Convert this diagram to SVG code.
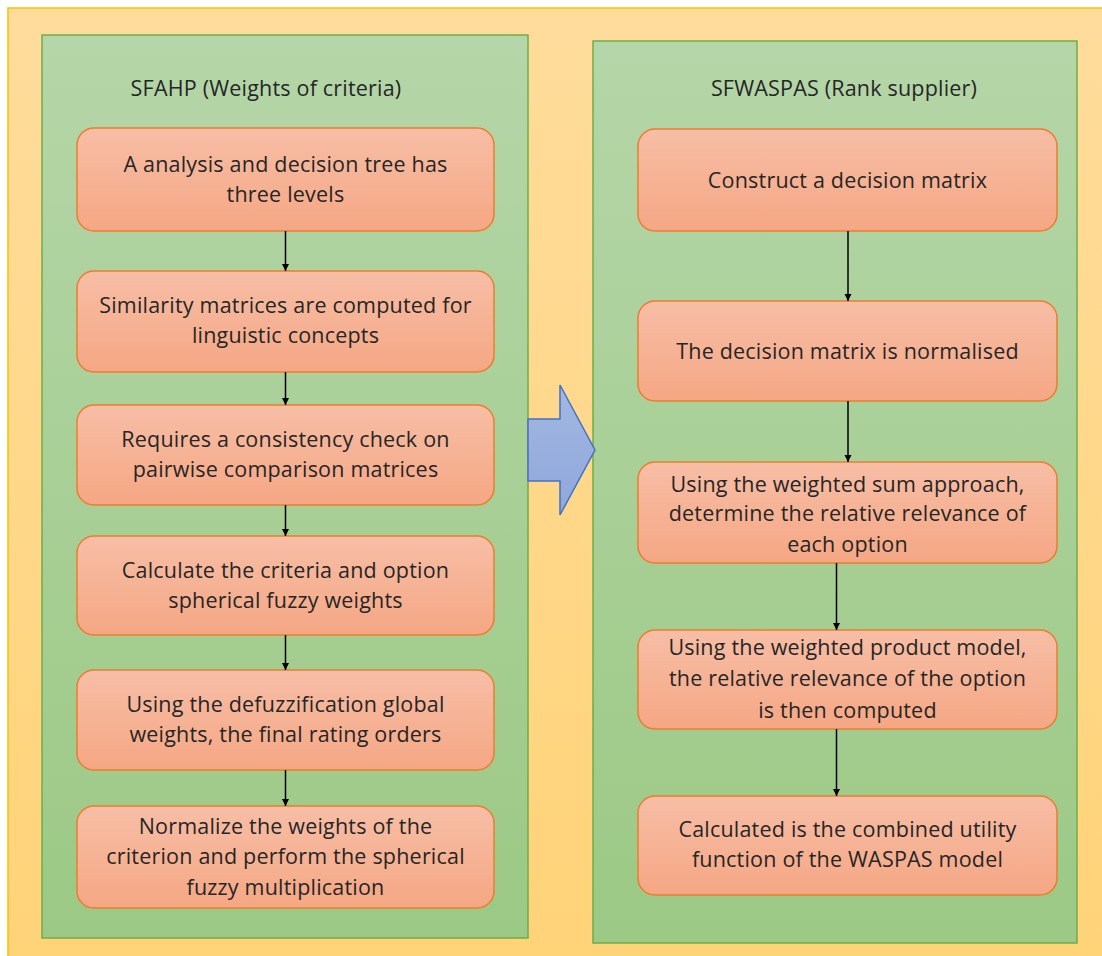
<svg xmlns="http://www.w3.org/2000/svg" width="1102" height="956" viewBox="0 0 1102 956">
<defs>
<linearGradient id="gy" x1="0" y1="0" x2="0" y2="1"><stop offset="0" stop-color="#FFDC9C"/><stop offset="1" stop-color="#FFD378"/></linearGradient>
<linearGradient id="gg" x1="0" y1="0" x2="0" y2="1"><stop offset="0" stop-color="#B5D6A8"/><stop offset="1" stop-color="#9CC985"/></linearGradient>
<linearGradient id="go" x1="0" y1="0" x2="0" y2="1"><stop offset="0" stop-color="#F7BEA6"/><stop offset="1" stop-color="#F5A784"/></linearGradient>
<linearGradient id="gb" x1="0" y1="0" x2="0" y2="1"><stop offset="0" stop-color="#A3B7E2"/><stop offset="1" stop-color="#8EA8DB"/></linearGradient>
<marker id="ah" markerWidth="8" markerHeight="8" refX="7" refY="4" orient="auto" markerUnits="userSpaceOnUse"><path d="M0,0.5 L7,4 L0,7.5 Z" fill="#000"/></marker>
</defs>
<style>
.panel{fill:url(#gg);stroke:#70AD47;stroke-width:1.5}
.box{fill:url(#go);stroke:#ED7D31;stroke-width:1.5}
.t{font-family:"Open Sans",Lato,sans-serif;font-size:21.5px;letter-spacing:0.2px;fill:#262626;text-anchor:middle}
.c{stroke:#000;stroke-width:1.5;fill:none;marker-end:url(#ah)}
</style>
<rect x="8" y="8" width="1100" height="955" fill="url(#gy)" stroke="#FFC000" stroke-width="1.5"/>
<g id="panel-left"><rect class="panel" x="42" y="35" width="486" height="903"/><text class="t" x="266" y="96">SFAHP (Weights of criteria)</text></g>
<g id="panel-right"><rect class="panel" x="593" y="41" width="484" height="902"/><text class="t" x="844" y="96">SFWASPAS (Rank supplier)</text></g>
<g id="transfer-arrow"><polygon points="528,419 560,419 560,385 595,450 560,515 560,481 528,481" fill="url(#gb)" stroke="#4472C4" stroke-width="1.5"/></g>
<g id="l1"><rect class="box" x="77" y="128" width="417" height="103" rx="17"/><text class="t" x="285.5" y="172">A analysis and decision tree has</text><text class="t" x="285.5" y="202">three levels</text></g>
<g id="l2"><rect class="box" x="77" y="271" width="417" height="101" rx="17"/><text class="t" x="285.5" y="313">Similarity matrices are computed for</text><text class="t" x="285.5" y="343">linguistic concepts</text></g>
<g id="l3"><rect class="box" x="77" y="405" width="417" height="100" rx="17"/><text class="t" x="285.5" y="447">Requires a consistency check on</text><text class="t" x="285.5" y="477">pairwise comparison matrices</text></g>
<g id="l4"><rect class="box" x="77" y="536" width="417" height="99" rx="17"/><text class="t" x="285.5" y="578">Calculate the criteria and option</text><text class="t" x="285.5" y="608">spherical fuzzy weights</text></g>
<g id="l5"><rect class="box" x="77" y="670" width="417" height="100" rx="17"/><text class="t" x="285.5" y="712">Using the defuzzification global</text><text class="t" x="285.5" y="742">weights, the final rating orders</text></g>
<g id="l6"><rect class="box" x="77" y="806" width="417" height="102" rx="17"/><text class="t" x="285.5" y="834">Normalize the weights of the</text><text class="t" x="285.5" y="864">criterion and perform the spherical</text><text class="t" x="285.5" y="895">fuzzy multiplication</text></g>
<g id="r1"><rect class="box" x="638" y="129" width="419" height="102" rx="17"/><text class="t" x="847.5" y="188">Construct a decision matrix</text></g>
<g id="r2"><rect class="box" x="638" y="301" width="419" height="100" rx="17"/><text class="t" x="847.5" y="359">The decision matrix is normalised</text></g>
<g id="r3"><rect class="box" x="638" y="462" width="419" height="101" rx="17"/><text class="t" x="847.5" y="492">Using the weighted sum approach,</text><text class="t" x="847.5" y="521">determine the relative relevance of</text><text class="t" x="847.5" y="552">each option</text></g>
<g id="r4"><rect class="box" x="638" y="630" width="419" height="99" rx="17"/><text class="t" x="847.5" y="655">Using the weighted product model,</text><text class="t" x="847.5" y="686">the relative relevance of the option</text><text class="t" x="847.5" y="718">is then computed</text></g>
<g id="r5"><rect class="box" x="638" y="796" width="419" height="99" rx="17"/><text class="t" x="847.5" y="837">Calculated is the combined utility</text><text class="t" x="847.5" y="867">function of the WASPAS model</text></g>
<g id="connectors">
<line class="c" x1="285.5" y1="231" x2="285.5" y2="271"/>
<line class="c" x1="285.5" y1="372" x2="285.5" y2="405"/>
<line class="c" x1="285.5" y1="505" x2="285.5" y2="536"/>
<line class="c" x1="285.5" y1="635" x2="285.5" y2="670"/>
<line class="c" x1="285.5" y1="770" x2="285.5" y2="806"/>
<line class="c" x1="848" y1="231" x2="848" y2="301"/>
<line class="c" x1="848" y1="401" x2="848" y2="462"/>
<line class="c" x1="836.5" y1="563" x2="836.5" y2="630"/>
<line class="c" x1="836.5" y1="729" x2="836.5" y2="796"/>
</g>
</svg>
